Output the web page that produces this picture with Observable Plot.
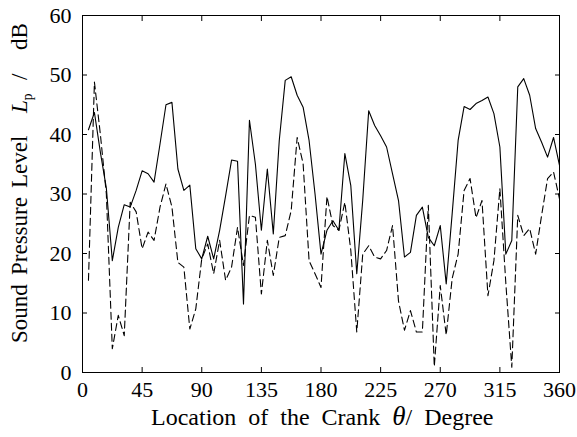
<!DOCTYPE html>
<html>
<head>
<meta charset="utf-8">
<script src="https://cdn.jsdelivr.net/npm/d3@7"></script>
<script src="https://cdn.jsdelivr.net/npm/@observablehq/plot@0.6"></script>
<style>
  html, body { margin: 0; padding: 0; background: white; }
</style>
</head>
<body>
<div id="chart"></div>
<script>
const angles = [4.5, 9, 13.5, 18, 22.5, 27, 31.5, 36, 40.5, 45, 49.5, 54, 58.5, 63, 67.5, 72, 76.5, 81, 85.5, 90,
  94.5, 99, 103.5, 108, 112.5, 117, 121.5, 126, 130.5, 135, 139.5, 144, 148.5, 153, 157.5, 162, 166.5, 171, 175.5, 180,
  184.5, 189, 193.5, 198, 202.5, 207, 211.5, 216, 220.5, 225, 229.5, 234, 238.5, 243, 247.5, 252, 256.5, 261, 265.5, 270,
  274.5, 279, 283.5, 288, 292.5, 297, 301.5, 306, 310.5, 315, 319.5, 324, 328.5, 333, 337.5, 342, 346.5, 351, 355.5, 360];

const solidLevel = [40.8, 43.7, 37, 31, 18.8, 24.4, 28.2, 27.8, 30.6, 33.9, 33.4, 32, 38.4, 45, 45.4, 34.2, 30.6, 31.5, 20.8, 19.1,
  22.9, 19.1, 23.9, 29.7, 35.7, 35.5, 11.5, 42.4, 35, 23.9, 34.2, 23.3, 39, 49.1, 49.7, 46.6, 44.6, 39, 30, 19.9,
  23.9, 25.5, 23.9, 36.8, 31.4, 16.6, 29, 44, 41.5, 39.8, 37.9, 33.4, 28.9, 19.4, 20.2, 26.4, 27.8, 22.7, 21.3, 24.7,
  14.9, 26.7, 39, 44.7, 44.2, 45.2, 45.7, 46.3, 43.5, 37.9, 19.9, 22.2, 48, 49.4, 46.6, 41, 38.7, 36.2, 39.5, 34.8];

const dashedLevel = [15.5, 48.8, 40, 30, 4.0, 9.6, 6.2, 28.6, 27, 20.8, 23.6, 22.2, 27.8, 31.7, 27.8, 18.5, 17.7, 7.3, 10.7, 19.1,
  21.6, 16.6, 22.2, 15.5, 17.7, 24.4, 18, 26.4, 26.1, 13.2, 22.2, 16.3, 22.7, 23, 27.2, 39.5, 35.1, 18.8, 16.6, 14.3,
  29.6, 24.7, 23.9, 28.6, 20.5, 6.8, 19.9, 21.3, 19.4, 19.1, 20.5, 24.7, 12, 7.1, 10.4, 6.8, 6.8, 28.1, 1.0, 14.6,
  6.3, 15.8, 19.9, 30.6, 32.6, 26, 28.9, 12.9, 18.8, 30.9, 15, 0.9, 26.4, 23, 24.2, 19.9, 26.4, 32.6, 33.7, 29.2];

const xTicks = [0, 45, 90, 135, 180, 225, 270, 315, 360];
const yTicks = [0, 10, 20, 30, 40, 50, 60];

const solidData = angles.map((a, i) => ({theta: a, lp: solidLevel[i]}));
const dashedData = angles.map((a, i) => ({theta: a, lp: dashedLevel[i]}));

const FONT = "'Liberation Serif', 'Times New Roman', serif";
const FS = 22;

const chart = Plot.plot({
  width: 577,
  height: 437,
  marginLeft: 82,
  marginRight: 18,
  marginTop: 15,
  marginBottom: 65,
  style: {fontFamily: FONT, fontSize: FS + "px", background: "white", color: "black"},
  x: {domain: [0, 360]},
  y: {domain: [0, 60]},
  marks: [
    Plot.axisX(xTicks, {anchor: "bottom", tickSize: -5, tickPadding: 14, label: null, fontSize: FS}),
    Plot.axisX(xTicks, {anchor: "top", tickSize: -5, tickFormat: () => "", label: null}),
    Plot.axisY(yTicks, {anchor: "left", tickSize: -5, tickPadding: 16, label: null, fontSize: FS}),
    Plot.axisY(yTicks, {anchor: "right", tickSize: -5, tickFormat: () => "", label: null}),
    Plot.line(solidData, {x: "theta", y: "lp", stroke: "black", strokeWidth: 1.1}),
    Plot.line(dashedData, {x: "theta", y: "lp", stroke: "black", strokeWidth: 1.1, strokeDasharray: "7,4"}),
    Plot.frame({stroke: "black", strokeWidth: 1})
  ]
});

document.getElementById("chart").appendChild(chart);

// Axis titles with italic symbols and subscript
const svg = d3.select(chart);

const xt = svg.append("text")
  .attr("x", 151)
  .attr("y", 425)
  .attr("text-anchor", "start")
  .attr("font-family", FONT)
  .attr("font-size", FS + 2)
  .attr("word-spacing", "6px")
  .attr("fill", "black");
xt.append("tspan").text("Location of the Crank ");
xt.append("tspan").attr("font-style", "italic").attr("font-size", FS + 5).text("θ");
xt.append("tspan").text("/ Degree");

const yBase = 343;
const yt = svg.append("text")
  .attr("transform", `translate(27,${yBase}) rotate(-90)`)
  .attr("text-anchor", "start")
  .attr("font-family", FONT)
  .attr("font-size", FS + 1)
  .attr("fill", "black");
yt.append("tspan").attr("x", 0).text("Sound");
yt.append("tspan").attr("x", 68).text("Pressure");
yt.append("tspan").attr("x", 155).text("Level");
yt.append("tspan").attr("x", yBase - 113).attr("font-style", "italic").text("L");
yt.append("tspan").attr("font-size", FS * 0.62).attr("dy", 5).text("p");
yt.append("tspan").attr("x", yBase - 80).attr("dy", -5).text("/");
yt.append("tspan").attr("x", yBase - 50).text("dB");
</script>
</body>
</html>
